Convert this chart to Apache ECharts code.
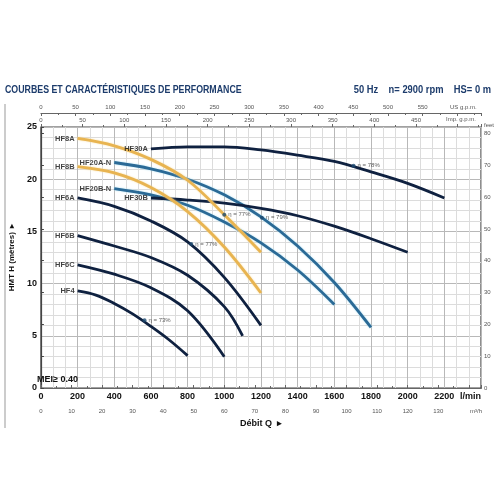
<!DOCTYPE html>
<html>
<head>
<meta charset="utf-8">
<script src="https://cdn.jsdelivr.net/npm/echarts@6/dist/echarts.min.js"></script>
<style>
  html, body { margin: 0; padding: 0; background: #fff; }
  #chart { width: 496px; height: 496px; }
</style>
</head>
<body>
<div id="chart"></div>
<script>
// courbes des pompes : [débit l/min, HMT m]
var hf8a = [[200, 23.9], [400, 23.2], [600, 21.9], [800, 19.9], [1000, 16.6], [1200, 13.0]];
var hf8b = [[200, 21.2], [400, 20.6], [600, 19.2], [800, 16.9], [1000, 13.5], [1200, 9.1]];
var hf20an = [[400, 21.6], [600, 21.0], [800, 20.0], [1000, 18.5], [1200, 16.4], [1400, 13.6], [1600, 10.1], [1800, 5.8]];
var hf20bn = [[400, 19.1], [600, 18.5], [800, 17.5], [1000, 15.9], [1200, 13.9], [1400, 11.3], [1600, 8.0]];
var hf30a = [[600, 22.9], [800, 23.1], [1000, 23.1], [1200, 22.8], [1400, 22.3], [1600, 21.7], [1800, 20.7], [2000, 19.6], [2200, 18.2]];
var hf30b = [[600, 18.2], [800, 18.0], [1000, 17.7], [1200, 17.2], [1400, 16.5], [1600, 15.5], [1800, 14.3], [2000, 13.0]];
var hf6a = [[200, 18.2], [400, 17.4], [600, 16.0], [800, 14.0], [1000, 10.6], [1200, 6.0]];
var hf6b = [[200, 14.6], [400, 13.6], [600, 12.5], [800, 10.8], [1000, 7.8], [1100, 5.0]];
var hf6c = [[200, 11.8], [400, 10.9], [600, 9.6], [800, 7.4], [1000, 3.0]];
var hf4 = [[200, 9.3], [300, 8.9], [400, 8.1], [500, 7.1], [600, 5.9], [700, 4.6], [800, 3.1]];

var curveNames = ['HF8A', 'HF8B', 'HF20A-N', 'HF20B-N', 'HF30A', 'HF30B', 'HF6A', 'HF6B', 'HF6C', 'HF4'];
var curveData = [hf8a, hf8b, hf20an, hf20bn, hf30a, hf30b, hf6a, hf6b, hf6c, hf4];
var curveColors = ['#e8b451', '#e8b451', '#2b6a96', '#2b6a96', '#0f2140', '#0f2140', '#0f2140', '#0f2140', '#0f2140', '#0f2140'];
var haloColors = ['#f6dca0', '#f6dca0', '#a9dcef', '#a9dcef', null, null, null, null, null, null];

// points de rendement
var effQ = [565, 820, 1000, 1205, 1705];
var effH = [6.5, 13.8, 16.6, 16.3, 21.3];
var effText = ['η = 73%', 'η = 77%', 'η = 77%', 'η = 79%', 'η = 78%'];

var qMax = 2400, hMax = 25;
var chart = echarts.init(document.getElementById('chart'));

var series = [];
curveData.forEach(function (pts, i) {
    var ls = { color: curveColors[i], width: 2.8 };
    if (haloColors[i]) {
        ls.shadowColor = haloColors[i];
        ls.shadowBlur = 2;
    }
    series.push({
        name: curveNames[i],
        type: 'line',
        data: pts,
        smooth: 0.35,
        symbol: 'none',
        lineStyle: ls,
        z: i < 2 ? 4 : 3
    });
});
// étiquettes des courbes, à gauche du premier point
series.push({
    type: 'scatter',
    symbolSize: 0,
    data: curveData.map(function (pts, i) { return { value: pts[0], name: curveNames[i] }; }),
    label: {
        show: true, position: 'left', distance: 3,
        formatter: '{b}', color: '#111', fontWeight: 'bold', fontSize: 7.5,
        fontFamily: 'Liberation Sans'
    },
    z: 6
});
series.push({
    type: 'scatter',
    symbolSize: 4,
    itemStyle: { color: '#1d4a70' },
    data: effQ.map(function (q, i) { return { value: [q, effH[i]], name: effText[i] }; }),
    label: {
        show: true, position: 'right', distance: 2, formatter: '{b}',
        color: '#333', fontSize: 6, fontFamily: 'Liberation Sans'
    },
    z: 7
});

chart.setOption({
    animation: false,
    textStyle: { fontFamily: 'Liberation Sans' },
    grid: { left: 33, top: 127, right: 15, bottom: 108, show: true, borderColor: '#444', borderWidth: 1.2 },
    graphic: [
        { type: 'text', x: 5, y: 84, scaleX: 0.8, style: { text: 'COURBES ET CARACTÉRISTIQUES DE PERFORMANCE', fill: '#1d3c6c', font: 'bold 11px "Liberation Sans"', textAlign: 'left' } },
        { type: 'text', x: 491, y: 84, scaleX: 0.85, style: { text: '50 Hz    n= 2900 rpm    HS= 0 m', fill: '#1d3c6c', font: 'bold 11px "Liberation Sans"', textAlign: 'right' } },
        { type: 'line', shape: { x1: 5, y1: 104, x2: 5, y2: 428 }, style: { stroke: '#999', lineWidth: 1 } },
        { type: 'text', left: 450, top: 104, style: { text: 'US g.p.m.', fill: '#555', font: '6px "Liberation Sans"' } },
        { type: 'text', left: 446, top: 116, style: { text: 'Imp. g.p.m.', fill: '#555', font: '6px "Liberation Sans"' } },
        { type: 'text', left: 484, top: 122, style: { text: 'feet', fill: '#555', font: '6px "Liberation Sans"' } },
        { type: 'text', left: 470, top: 408, style: { text: 'm³/h', fill: '#555', font: '6px "Liberation Sans"' } },
        { type: 'text', left: 37, top: 375, style: { text: 'MEI≥ 0.40', fill: '#111', font: 'bold 9px "Liberation Sans"' }, z: 10 }
    ],
    xAxis: [
        {
            type: 'value', min: 0, max: qMax, interval: 200, position: 'bottom',
            axisLine: { show: true, lineStyle: { color: '#444', width: 1.2 } },
            axisTick: { show: false },
            axisLabel: {
                color: '#111', fontWeight: 'bold', fontSize: 9, margin: 4,
                alignMaxLabel: 'right',
                formatter: function (v) { return v === qMax ? 'l/min' : v; }
            },
            splitLine: { show: true, lineStyle: { color: '#b8b8b8', width: 1 } },
            minorTick: { show: false, splitNumber: 3 },
            minorSplitLine: { show: true, lineStyle: { color: '#dcdcdc', width: 1 } }
        },
        {
            type: 'value', min: 0, max: qMax / 16.6667, interval: 10, position: 'bottom', offset: 17,
            axisLine: { show: true, lineStyle: { color: '#666', width: 1 } },
            axisTick: { show: true, inside: true, length: 3, lineStyle: { color: '#666' } },
            minorTick: { show: true, splitNumber: 2, length: 2, lineStyle: { color: '#666' } },
            axisLabel: {
                color: '#555', fontSize: 6, margin: 3,
                formatter: function (v) { return (v % 10 === 0 && v <= 130) ? v : ''; }
            },
            splitLine: { show: false },
            name: 'Débit Q  ▸', nameLocation: 'middle', nameGap: 14,
            nameTextStyle: { color: '#111', fontWeight: 'bold', fontSize: 9 }
        },
        {
            type: 'value', min: 0, max: qMax / 3.7854, interval: 50, position: 'top', offset: 14,
            axisLine: { show: true, lineStyle: { color: '#666', width: 1 } },
            axisTick: { show: true, inside: true, length: 3, lineStyle: { color: '#666' } },
            minorTick: { show: true, splitNumber: 2, length: 2, lineStyle: { color: '#666' } },
            axisLabel: {
                color: '#555', fontSize: 6, margin: 3,
                formatter: function (v) { return (v % 50 === 0 && v <= 550) ? v : ''; }
            },
            splitLine: { show: false }
        },
        {
            type: 'value', min: 0, max: qMax / 4.546, interval: 50, position: 'top', offset: 0,
            axisLine: { show: false },
            axisTick: { show: true, length: 3, lineStyle: { color: '#666' } },
            minorTick: { show: true, splitNumber: 2, length: 2, lineStyle: { color: '#666' } },
            axisLabel: {
                color: '#555', fontSize: 6, margin: 4,
                formatter: function (v) { return (v % 50 === 0 && v <= 450) ? v : ''; }
            },
            splitLine: { show: false }
        }
    ],
    yAxis: [
        {
            type: 'value', min: 0, max: hMax, interval: 5, position: 'left',
            axisLine: { show: true, lineStyle: { color: '#444', width: 1.2 } },
            axisTick: { show: false },
            axisLabel: { color: '#111', fontWeight: 'bold', fontSize: 9, margin: 4 },
            splitLine: { show: true, lineStyle: { color: '#b8b8b8', width: 1 } },
            minorTick: { show: false, splitNumber: 5 },
            minorSplitLine: { show: true, lineStyle: { color: '#dcdcdc', width: 1 } },
            name: 'HMT H (mètres)  ▸', nameLocation: 'middle', nameGap: 18, nameRotate: 90,
            nameTextStyle: { color: '#111', fontWeight: 'bold', fontSize: 8 }
        },
        {
            type: 'value', min: 0, max: hMax * 3.28084, interval: 10, position: 'right',
            axisLine: { show: false },
            axisTick: { show: true, length: 3, lineStyle: { color: '#444' } },
            axisLabel: {
                color: '#555', fontSize: 6, margin: 3,
                formatter: function (v) { return v % 10 === 0 ? v : ''; }
            },
            splitLine: { show: false }
        }
    ],
    series: series
});
</script>
</body>
</html>
